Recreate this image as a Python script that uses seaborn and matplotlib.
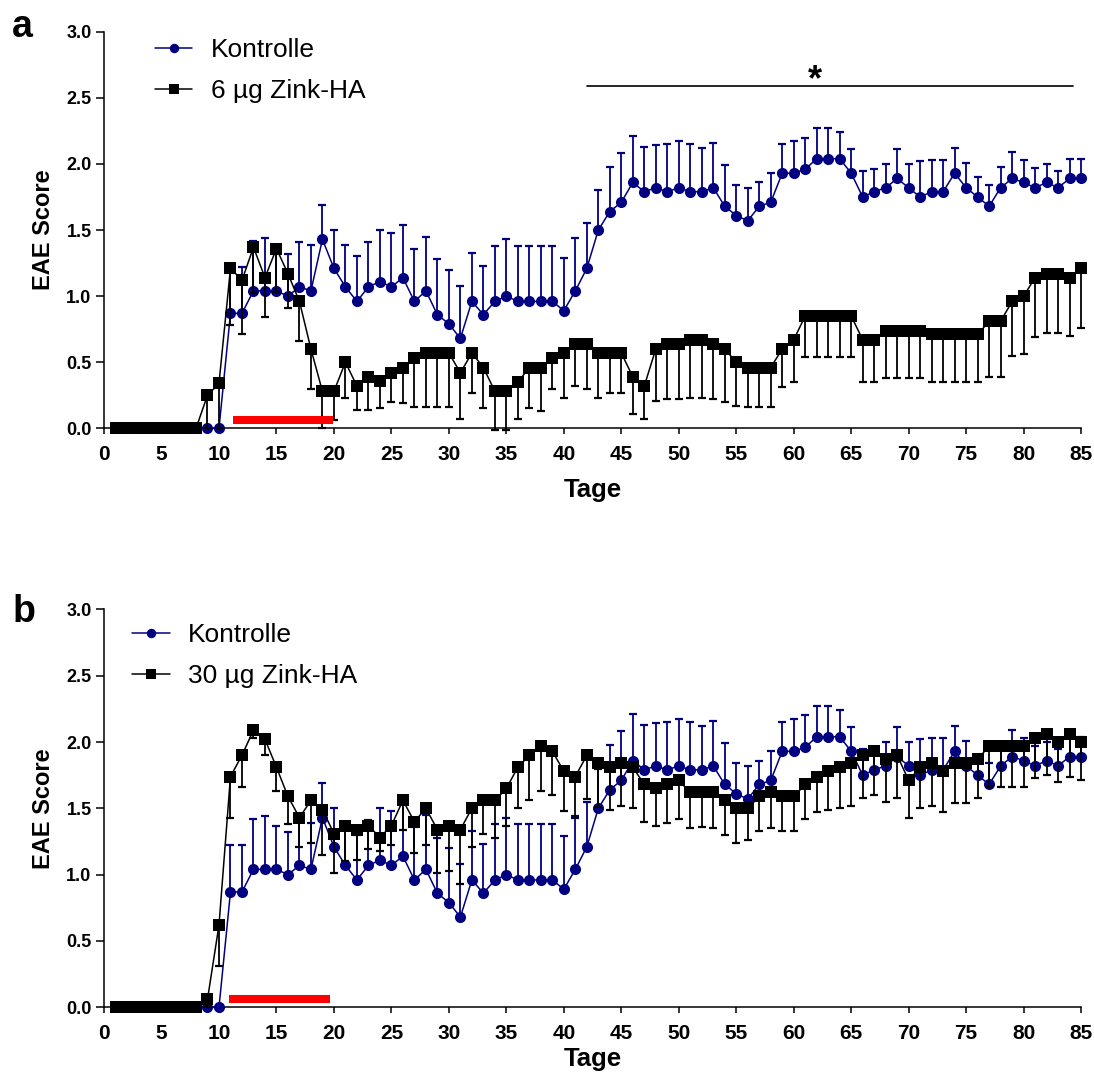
import numpy as np
import pandas as pd
import matplotlib
import matplotlib.pyplot as plt
import seaborn as sns
from matplotlib.ticker import FormatStrFormatter

matplotlib.use('Agg')

# days of observation
days = list(range(1, 86))

# Kontrolle (same group in both panels), mean score and SEM (drawn upward)
kontrolle_mean = [
    0, 0, 0, 0, 0, 0, 0, 0, 0, 0,
    0.87, 0.87, 1.04, 1.04, 1.04, 1.00, 1.07, 1.04, 1.43, 1.21,
    1.07, 0.96, 1.07, 1.11, 1.07, 1.14, 0.96, 1.04, 0.86, 0.79,
    0.68, 0.96, 0.86, 0.96, 1.00, 0.96, 0.96, 0.96, 0.96, 0.89,
    1.04, 1.21, 1.50, 1.64, 1.71, 1.86, 1.79, 1.82, 1.79, 1.82,
    1.79, 1.79, 1.82, 1.68, 1.61, 1.57, 1.68, 1.71, 1.93, 1.93,
    1.96, 2.04, 2.04, 2.04, 1.93, 1.75, 1.79, 1.82, 1.89, 1.82,
    1.75, 1.79, 1.79, 1.93, 1.82, 1.75, 1.68, 1.82, 1.89, 1.86,
    1.82, 1.86, 1.82, 1.89, 1.89]
kontrolle_sem = [
    0, 0, 0, 0, 0, 0, 0, 0, 0, 0,
    0.35, 0.35, 0.38, 0.40, 0.33, 0.32, 0.34, 0.35, 0.26, 0.29,
    0.32, 0.34, 0.34, 0.39, 0.41, 0.40, 0.40, 0.41, 0.42, 0.41,
    0.40, 0.37, 0.37, 0.42, 0.43, 0.42, 0.42, 0.42, 0.42, 0.40,
    0.40, 0.34, 0.30, 0.34, 0.37, 0.35, 0.34, 0.32, 0.36, 0.35,
    0.36, 0.33, 0.34, 0.31, 0.23, 0.25, 0.18, 0.22, 0.22, 0.24,
    0.24, 0.23, 0.23, 0.20, 0.18, 0.20, 0.17, 0.18, 0.22, 0.18,
    0.27, 0.24, 0.24, 0.19, 0.19, 0.15, 0.16, 0.16, 0.20, 0.17,
    0.15, 0.14, 0.13, 0.15, 0.15]

# 6 ug Zink-HA (panel a), SEM drawn downward
zink6_mean = [
    0, 0, 0, 0, 0, 0, 0, 0, 0.25, 0.34,
    1.21, 1.12, 1.37, 1.14, 1.36, 1.17, 0.96, 0.60, 0.28, 0.28,
    0.50, 0.32, 0.39, 0.36, 0.42, 0.46, 0.53, 0.57, 0.57, 0.57,
    0.42, 0.57, 0.46, 0.28, 0.28, 0.35, 0.46, 0.46, 0.53, 0.57,
    0.64, 0.64, 0.57, 0.57, 0.57, 0.39, 0.32, 0.60, 0.64, 0.64,
    0.67, 0.67, 0.64, 0.60, 0.50, 0.46, 0.46, 0.46, 0.60, 0.67,
    0.85, 0.85, 0.85, 0.85, 0.85, 0.67, 0.67, 0.74, 0.74, 0.74,
    0.74, 0.71, 0.71, 0.71, 0.71, 0.71, 0.81, 0.81, 0.96, 1.00,
    1.14, 1.17, 1.17, 1.14, 1.21]
zink6_sem = [
    0, 0, 0, 0, 0, 0, 0, 0, 0.25, 0.34,
    0.43, 0.41, 0.35, 0.30, 0.33, 0.26, 0.30, 0.30, 0.28, 0.22,
    0.27, 0.18, 0.25, 0.21, 0.22, 0.27, 0.37, 0.41, 0.41, 0.41,
    0.35, 0.30, 0.31, 0.29, 0.29, 0.28, 0.31, 0.33, 0.23, 0.34,
    0.32, 0.34, 0.34, 0.30, 0.30, 0.28, 0.25, 0.39, 0.42, 0.42,
    0.44, 0.44, 0.42, 0.40, 0.33, 0.30, 0.30, 0.30, 0.29, 0.32,
    0.31, 0.31, 0.31, 0.31, 0.31, 0.32, 0.32, 0.36, 0.36, 0.36,
    0.36, 0.36, 0.36, 0.36, 0.36, 0.36, 0.42, 0.42, 0.41, 0.44,
    0.45, 0.45, 0.45, 0.44, 0.45]

# 30 ug Zink-HA (panel b), SEM drawn downward
zink30_mean = [
    0, 0, 0, 0, 0, 0, 0, 0, 0.06, 0.62,
    1.74, 1.90, 2.09, 2.02, 1.81, 1.59, 1.43, 1.56, 1.49, 1.31,
    1.37, 1.34, 1.37, 1.28, 1.37, 1.56, 1.40, 1.50, 1.34, 1.37,
    1.34, 1.50, 1.56, 1.56, 1.65, 1.81, 1.90, 1.97, 1.93, 1.78,
    1.74, 1.90, 1.84, 1.81, 1.84, 1.81, 1.68, 1.65, 1.68, 1.71,
    1.62, 1.62, 1.62, 1.56, 1.50, 1.50, 1.59, 1.62, 1.59, 1.59,
    1.68, 1.74, 1.78, 1.81, 1.84, 1.90, 1.93, 1.87, 1.90, 1.71,
    1.81, 1.84, 1.78, 1.84, 1.84, 1.87, 1.97, 1.97, 1.97, 1.97,
    2.03, 2.06, 2.00, 2.06, 2.00]
zink30_sem = [
    0, 0, 0, 0, 0, 0, 0, 0, 0.06, 0.31,
    0.31, 0.24, 0.06, 0.12, 0.18, 0.21, 0.22, 0.32, 0.34, 0.30,
    0.27, 0.23, 0.18, 0.10, 0.15, 0.22, 0.24, 0.28, 0.33, 0.34,
    0.41, 0.29, 0.25, 0.28, 0.28, 0.31, 0.34, 0.34, 0.33, 0.30,
    0.31, 0.33, 0.33, 0.32, 0.32, 0.31, 0.28, 0.28, 0.29, 0.29,
    0.27, 0.26, 0.27, 0.26, 0.26, 0.24, 0.26, 0.27, 0.26, 0.26,
    0.26, 0.27, 0.29, 0.31, 0.32, 0.32, 0.33, 0.32, 0.32, 0.28,
    0.31, 0.32, 0.31, 0.30, 0.30, 0.29, 0.31, 0.31, 0.31, 0.31,
    0.30, 0.31, 0.30, 0.32, 0.29]

# treatment period (red bar) and significance bar of panel a
treat_a = [11.2, 19.9]
treat_b = [10.9, 19.7]
treat_y = 0.066
sig_span = [42.0, 84.3]
sig_y = 2.59

NAVY = '#000080'

sns.set_style('ticks')
plt.rcParams['font.family'] = ['Liberation Sans', 'DejaVu Sans']
for key in ['text.color', 'axes.labelcolor', 'xtick.color', 'ytick.color', 'axes.edgecolor']:
    plt.rcParams[key] = 'black'


def unclip(container):
    for art in container.get_children():
        art.set_clip_on(False)


def draw_panel(ax, treat_mean, treat_sem, treat_label, treat_span, xlabel_pad):
    zeros = [0] * len(days)
    eb = ax.errorbar(days, kontrolle_mean, yerr=[zeros, kontrolle_sem], fmt='none',
                     ecolor=NAVY, elinewidth=1.3, capsize=3, capthick=1.6, zorder=2)
    unclip(eb)
    sns.lineplot(x=days, y=kontrolle_mean, ax=ax, color=NAVY, marker='o', markersize=8,
                 markeredgewidth=0, linewidth=1.1, label='Kontrolle', errorbar=None,
                 zorder=3, clip_on=False)
    eb = ax.errorbar(days, treat_mean, yerr=[treat_sem, zeros], fmt='none',
                     ecolor='black', elinewidth=1.3, capsize=3, capthick=1.6, zorder=4)
    unclip(eb)
    sns.lineplot(x=days, y=treat_mean, ax=ax, color='black', marker='s', markersize=8,
                 markeredgewidth=0, linewidth=1.1, label=treat_label, errorbar=None,
                 zorder=5, clip_on=False)

    ax.hlines(treat_y, treat_span[0], treat_span[1], colors='#ff0000', linewidth=5.8,
              zorder=6)

    ax.set_xlim(0, 85)
    ax.set_ylim(0, 3.0)
    ax.set_xticks(list(range(0, 86, 5)))
    ax.set_yticks([0, 0.5, 1.0, 1.5, 2.0, 2.5, 3.0])
    ax.yaxis.set_major_formatter(FormatStrFormatter('%.1f'))
    ax.tick_params(axis='x', length=4, width=1.1, labelsize=15, pad=8, colors='black')
    ax.tick_params(axis='y', length=6, width=1.1, labelsize=13, pad=3, colors='black')
    for lbl in ax.get_xticklabels() + ax.get_yticklabels():
        lbl.set_fontweight('bold')
    sns.despine(ax=ax)
    for side in ['left', 'bottom']:
        ax.spines[side].set_linewidth(1.1)
        ax.spines[side].set_color('black')
    ax.set_xlabel('Tage', fontsize=18.5, fontweight='bold', labelpad=xlabel_pad)
    ax.set_ylabel('EAE Score', fontsize=17, fontweight='bold', labelpad=8)


fig = plt.figure(figsize=(10.94, 10.77), dpi=100)
ax_a = fig.add_axes([0.0951, 0.6023, 0.8931, 0.3682])
ax_b = fig.add_axes([0.0951, 0.0647, 0.8931, 0.3695])

draw_panel(ax_a, zink6_mean, zink6_sem, '6 µg Zink-HA', treat_a, 10)
draw_panel(ax_b, zink30_mean, zink30_sem, '30 µg Zink-HA', treat_b, 3)

ax_a.plot(sig_span, [sig_y, sig_y], color='black', linewidth=1.2, clip_on=False)
ax_a.text(sum(sig_span) / 2 - 1.3, sig_y - 0.03, '*', fontsize=26, fontweight='bold',
          ha='center', va='baseline')

for ax, pos in [(ax_a, (0.1417, 0.9648)), (ax_b, (0.1207, 0.4216))]:
    ax.legend(loc='upper left', bbox_to_anchor=pos, bbox_transform=fig.transFigure,
              frameon=False, fontsize=19, handlelength=1.42, handletextpad=0.7,
              labelspacing=0.65, borderpad=0, borderaxespad=0, markerscale=0.85)

fig.text(0.011, 0.9656, 'a', fontsize=27, fontweight='bold', ha='left', va='baseline')
fig.text(0.011, 0.4225, 'b', fontsize=27, fontweight='bold', ha='left', va='baseline')

fig.savefig('out.png', dpi=100)
